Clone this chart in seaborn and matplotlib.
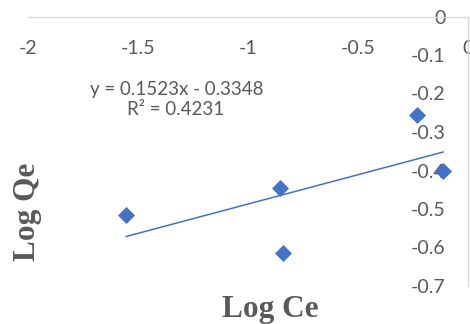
import numpy as np
import pandas as pd
import matplotlib
matplotlib.use("Agg")
import matplotlib.pyplot as plt
import seaborn as sns

# Freundlich isotherm points (log of equilibrium concentration vs log of uptake)
log_ce = [-1.555, -0.855, -0.842, -0.233, -0.112]
log_qe = [-0.516, -0.446, -0.615, -0.256, -0.401]

# Linear trendline coefficients and fit quality
slope = 0.1523
intercept = -0.3348
r_squared = 0.4231

x_ticks = [-2, -1.5, -1, -0.5, 0]
y_ticks = [0, -0.1, -0.2, -0.3, -0.4, -0.5, -0.6, -0.7]

sns.set_theme(style="white")
plt.rcParams["font.family"] = ["Lato", "DejaVu Sans"]

W, H = 470, 324
fig = plt.figure(figsize=(W / 100, H / 100), dpi=100)
ax = fig.add_axes([28 / W, (H - 286) / H, 440 / W, 269.5 / H])

blue = "#4472C4"
grey = "#595959"

df = pd.DataFrame({"Log Ce": log_ce, "Log Qe": log_qe})
sns.scatterplot(data=df, x="Log Ce", y="Log Qe", marker="D", s=75,
                color=blue, linewidth=0, ax=ax, zorder=3)

fit_x = np.array([min(log_ce), max(log_ce)])
sns.lineplot(x=fit_x, y=slope * fit_x + intercept, color=blue,
             linewidth=1.1, ax=ax, zorder=2)

ax.set_xlim(-2, 0)
ax.set_ylim(-0.7, 0)
ax.set_xticks(x_ticks)
ax.set_xticklabels([f"{v:g}" for v in x_ticks])
ax.set_yticks(y_ticks)
ax.set_yticklabels([f"{v:g}" for v in y_ticks])

# Axes cross at the origin (top-right corner of the plotting area)
ax.spines["left"].set_position(("data", 0))
ax.spines["bottom"].set_position(("data", 0))
ax.spines["top"].set_visible(False)
ax.spines["right"].set_visible(False)
for side in ("left", "bottom"):
    ax.spines[side].set_color("#d9d9d9")
    ax.spines[side].set_linewidth(1.0)

ax.tick_params(axis="x", length=0, pad=17, labelsize=14, labelcolor=grey)
ax.tick_params(axis="y", length=0, pad=16, labelsize=14, labelcolor=grey)

title_font = dict(family="Liberation Serif", fontweight="bold",
                  fontsize=22.5, color=grey)
ax.set_xlabel("Log Ce", **title_font)
ax.set_ylabel("Log Qe", **title_font)
ax.xaxis.set_label_coords((270 - 28) / 440, (286 - 309) / 269.5)
ax.yaxis.set_label_coords((28 - 28) / 440, (286 - 212) / 269.5)
ax.xaxis.label.set_va("center")
ax.yaxis.label.set_va("center")

fig.text(176.5 / W, 1 - 89 / H, f"y = {slope:.4f}x - {abs(intercept):.4f}",
         ha="center", va="center", fontsize=13.5, color=grey)
fig.text(175.5 / W, 1 - 110 / H, f"R² = {r_squared:.4f}",
         ha="center", va="center", fontsize=13.5, color=grey)

fig.savefig("out.png", dpi=100)
